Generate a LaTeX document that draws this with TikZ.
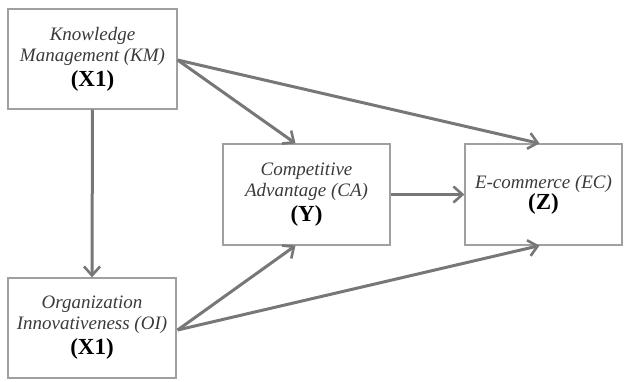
\documentclass[tikz,border=0pt]{standalone}
\usepackage{fontspec}
\setmainfont{Liberation Serif}
\usetikzlibrary{arrows.meta,calc}
\definecolor{boxline}{HTML}{A0A0A0}
\definecolor{arrowgray}{HTML}{777777}
\definecolor{txt}{HTML}{3A3A3A}
\newcommand{\labit}[1]{{\fontsize{19}{21}\selectfont\itshape #1}}
\newcommand{\labbf}[1]{{\fontsize{23}{26}\selectfont\bfseries\color{black}#1}}
\tikzset{
  box/.style={draw=boxline, line width=1.2pt, rectangle, align=center, inner sep=0pt, text=txt},
  conn/.style={draw=arrowgray, line width=3pt, -{Straight Barb[length=9pt,width=16pt,line width=2.6pt]}}
}
\begin{document}
\begin{tikzpicture}[x=1pt,y=-1pt]
\useasboundingbox (0,0) rectangle (629,381);
\node[box, minimum width=169pt, minimum height=100pt] (KM) at (92.5,59)
  {\labit{Knowledge}\\[3pt]\labit{Management (KM)}\\[4pt]\labbf{(X1)}};
\node[box, minimum width=168pt, minimum height=100pt] (OI) at (92,328)
  {\labit{Organization}\\[3pt]\labit{Innovativeness (OI)}\\[4pt]\labbf{(X1)}};
\node[box, minimum width=167pt, minimum height=101pt] (CA) at (306.5,194.5)
  {\labit{Competitive}\\[3pt]\labit{Advantage (CA)}\\[4pt]\labbf{(Y)}};
\node[box, minimum width=157pt, minimum height=101pt] (EC) at (543.5,194.5)
  {\labit{E-commerce (EC)}\\[0pt]\labbf{(Z)}};
\coordinate (CAtop) at ($(CA.north)+(-11,0)$);
\coordinate (CAbot) at ($(CA.south)+(-11,0)$);
\coordinate (ECtop) at ($(EC.north)+(-4,0)$);
\coordinate (ECbot) at ($(EC.south)+(-4,0)$);
\coordinate (KMout) at ($(KM.east)+(0,1)$);
\coordinate (OIout) at ($(OI.east)+(1,2)$);
\draw[conn] (KMout) -- (CAtop);
\draw[conn] (KMout) -- (ECtop);
\draw[conn] (KM.south) -- (OI.north);
\draw[conn] (CA.east) -- (EC.west);
\draw[conn] (OIout) -- (CAbot);
\draw[conn] (OIout) -- (ECbot);
\end{tikzpicture}
\end{document}
